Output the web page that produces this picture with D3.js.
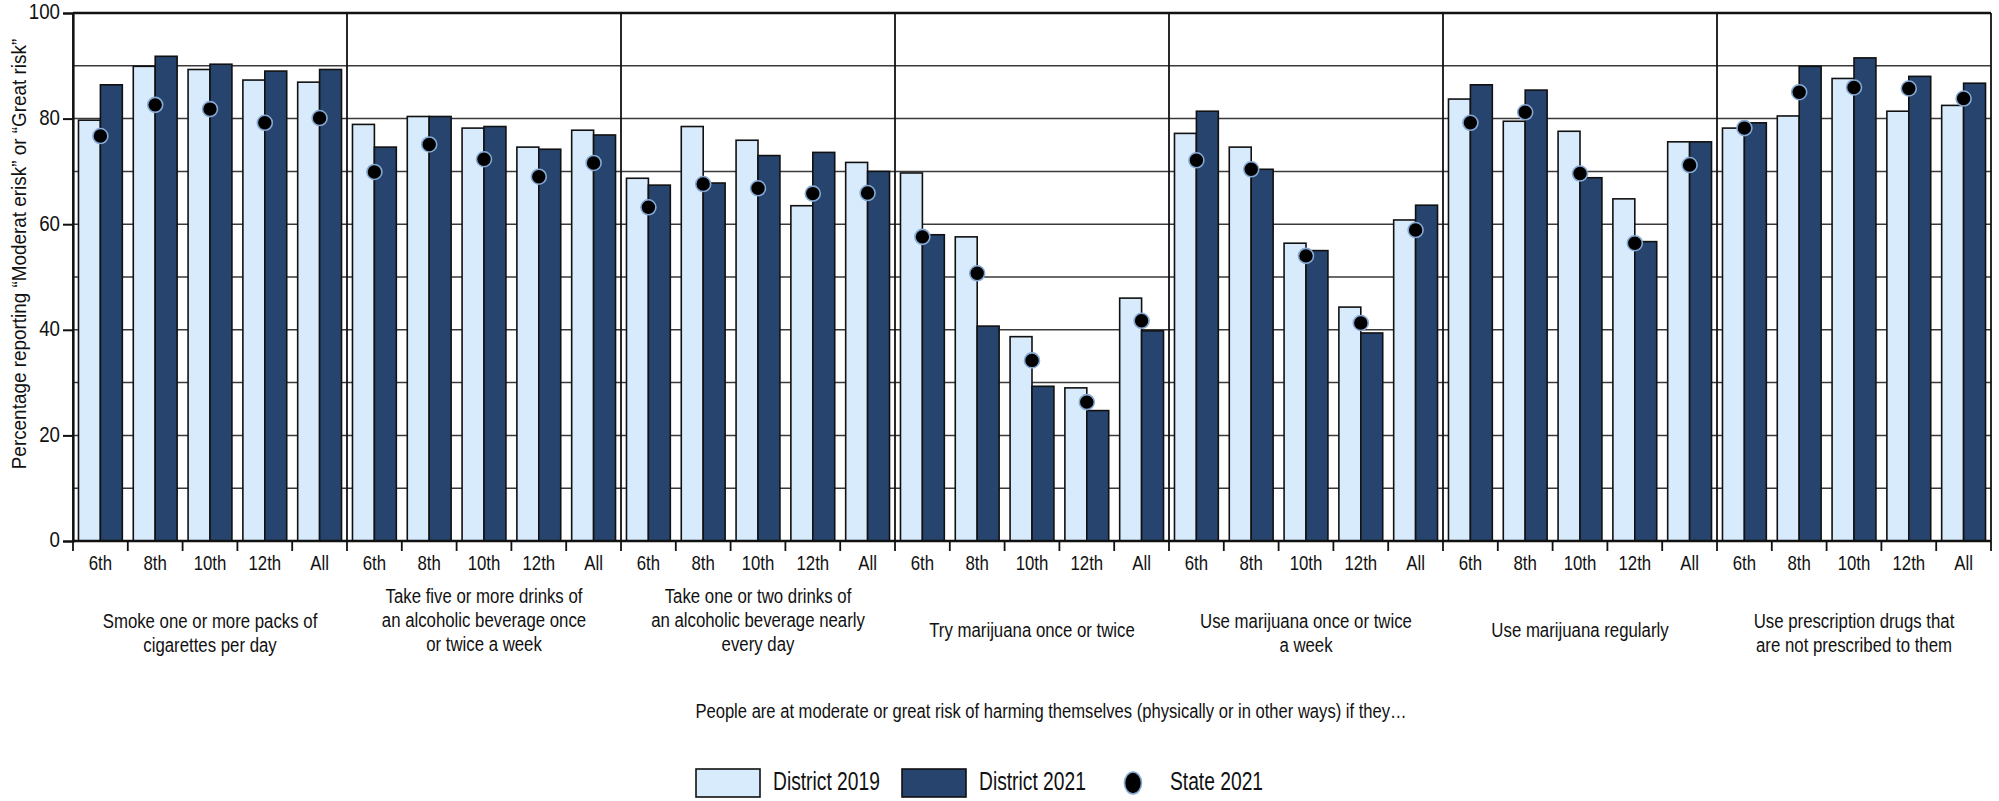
<!DOCTYPE html>
<html>
<head>
<meta charset="utf-8">
<script src="https://cdn.jsdelivr.net/npm/d3@7/dist/d3.min.js"></script>
<style>
  html, body { margin: 0; padding: 0; background: #fff; }
  svg text { font-family: "Liberation Sans", Arial, sans-serif; fill: #111; }
</style>
</head>
<body>
<svg id="chart" width="1999" height="801"></svg>
<script>
// ---------- data ----------
const grades = ["6th", "8th", "10th", "12th", "All"];
const behaviors = [
  ["Smoke one or more packs of", "cigarettes per day"],
  ["Take five or more drinks of", "an alcoholic beverage once", "or twice a week"],
  ["Take one or two drinks of", "an alcoholic beverage nearly", "every day"],
  ["Try marijuana once or twice"],
  ["Use marijuana once or twice", "a week"],
  ["Use marijuana regularly"],
  ["Use prescription drugs that", "are not prescribed to them"]
];
const district2019 = [
  [79.7, 89.9, 89.3, 87.3, 86.9],
  [78.9, 80.4, 78.2, 74.6, 77.8],
  [68.7, 78.5, 75.9, 63.5, 71.7],
  [69.7, 57.6, 38.7, 29.0, 46.0],
  [77.2, 74.6, 56.4, 44.3, 60.8],
  [83.7, 79.5, 77.6, 64.8, 75.6],
  [78.2, 80.5, 87.6, 81.4, 82.5]
];
const district2021 = [
  [86.4, 91.8, 90.3, 89.0, 89.3],
  [74.6, 80.4, 78.5, 74.2, 76.9],
  [67.4, 67.8, 73.0, 73.6, 70.0],
  [58.0, 40.7, 29.3, 24.7, 39.8],
  [81.4, 70.4, 55.0, 39.4, 63.6],
  [86.4, 85.4, 68.8, 56.7, 75.6],
  [79.2, 89.9, 91.5, 88.0, 86.7]
];
const state2021 = [
  [76.7, 82.6, 81.8, 79.2, 80.1],
  [69.9, 75.1, 72.3, 69.0, 71.6],
  [63.2, 67.6, 66.8, 65.8, 65.9],
  [57.6, 50.7, 34.2, 26.3, 41.7],
  [72.1, 70.4, 54.0, 41.3, 58.9],
  [79.2, 81.2, 69.6, 56.4, 71.2],
  [78.2, 85.0, 85.9, 85.7, 83.8]
];
const yTickValues = [0, 20, 40, 60, 80, 100];
const gridValues = [10, 20, 30, 40, 50, 60, 70, 80, 90];
const seriesNames = ["District 2019", "District 2021", "State 2021"];
const yTitle = "Percentage reporting \u201cModerat erisk\u201d or \u201cGreat risk\u201d";
const xTitle = "People are at moderate or great risk of harming themselves (physically or in other ways) if they\u2026";

// ---------- layout ----------
const colors = { d2019: "#d8ebfc", d2021: "#26446e", dot: "#000", dotStroke: "#86a9d4" };
const plotLeft = 73, plotRight = 1991, plotTop = 13, plotBottom = 541;

// condensed look: horizontal squeeze through a transform
function squeezeAt(sel, xf, yf, f, rot) {
  sel.attr("x", 0).attr("y", 0)
    .attr("transform", (d, i) => `translate(${xf(d, i)},${yf(d, i)})${rot ? ` rotate(${rot})` : ""} scale(${f},1)`);
}

const svg = d3.select("#chart");
const y = d3.scaleLinear().domain([0, 100]).range([plotBottom, plotTop]);
const xGroup = d3.scaleBand().domain(d3.range(behaviors.length)).range([plotLeft, plotRight]).padding(0);
const xGrade = d3.scaleBand().domain(grades).range([0, xGroup.bandwidth()]).padding(0);
const xSeries = d3.scaleBand().domain(["d2019", "d2021"]).range([0, xGrade.bandwidth()])
  .paddingInner(0).paddingOuter(0.25);

// gridlines
svg.append("g").selectAll("line").data(gridValues).join("line")
  .attr("x1", plotLeft).attr("x2", plotRight)
  .attr("y1", d => y(d)).attr("y2", d => y(d))
  .attr("stroke", "#3a3a3a").attr("stroke-width", 1.5);

// records
const records = [];
behaviors.forEach((b, gi) => grades.forEach((g, k) => {
  records.push({ gi, g, v19: district2019[gi][k], v21: district2021[gi][k], vs: state2021[gi][k] });
}));
const cx = d => xGroup(d.gi) + xGrade(d.g);

// bars
const barG = svg.append("g");
barG.selectAll("rect.b19").data(records).join("rect").attr("class", "b19")
  .attr("x", d => cx(d) + xSeries("d2019")).attr("width", xSeries.bandwidth())
  .attr("y", d => y(d.v19)).attr("height", d => y(0) - y(d.v19))
  .attr("fill", colors.d2019).attr("stroke", "#111").attr("stroke-width", 1.6);
barG.selectAll("rect.b21").data(records).join("rect").attr("class", "b21")
  .attr("x", d => cx(d) + xSeries("d2021")).attr("width", xSeries.bandwidth())
  .attr("y", d => y(d.v21)).attr("height", d => y(0) - y(d.v21))
  .attr("fill", colors.d2021).attr("stroke", "#111").attr("stroke-width", 1.6);

// group separators (full height) and right border
const sepX = d3.range(behaviors.length + 1).map(i => i < behaviors.length ? xGroup(i) : plotRight);
svg.append("g").selectAll("line").data(sepX).join("line")
  .attr("x1", d => d).attr("x2", d => d)
  .attr("y1", y(100)).attr("y2", y(0) + 10)
  .attr("stroke", "#111").attr("stroke-width", 1.8);

// x ticks at grade boundaries
const tickX = [];
behaviors.forEach((b, gi) => grades.forEach((g, k) => { if (k > 0) tickX.push(xGroup(gi) + xGrade(g)); }));
svg.append("g").selectAll("line").data(tickX).join("line")
  .attr("x1", d => d).attr("x2", d => d)
  .attr("y1", y(0)).attr("y2", y(0) + 10)
  .attr("stroke", "#111").attr("stroke-width", 1.8);

// top line and baseline
svg.append("line").attr("x1", plotLeft).attr("x2", plotRight).attr("y1", y(100)).attr("y2", y(100))
  .attr("stroke", "#111").attr("stroke-width", 2.6);
svg.append("line").attr("x1", plotLeft).attr("x2", plotRight).attr("y1", y(0)).attr("y2", y(0))
  .attr("stroke", "#111").attr("stroke-width", 2.6);

// y axis
const yAxis = svg.append("g").attr("transform", `translate(${plotLeft},0)`)
  .call(d3.axisLeft(y).tickValues(yTickValues).tickSize(10).tickPadding(3).tickFormat(d3.format("d")));
yAxis.select(".domain").attr("stroke", "#111").attr("stroke-width", 2.2);
yAxis.selectAll(".tick line").attr("stroke", "#111").attr("stroke-width", 2);
const yTickText = yAxis.selectAll(".tick text")
  .style("font-size", "22px").style("font-family", "'Liberation Sans', Arial, sans-serif")
  .attr("fill", "#111").attr("dy", null).attr("dominant-baseline", "middle");
squeezeAt(yTickText, () => -13, () => 0, 0.85);

// dots
svg.append("g").selectAll("circle").data(records).join("circle")
  .attr("cx", d => cx(d) + xSeries("d2021"))
  .attr("cy", d => y(d.vs))
  .attr("r", 7.5)
  .attr("fill", colors.dot).attr("stroke", colors.dotStroke).attr("stroke-width", 1.6);

// grade labels
const gl = svg.append("g").selectAll("text").data(records).join("text")
  .attr("text-anchor", "middle")
  .style("font-size", "21px")
  .text(d => d.g);
squeezeAt(gl, d => cx(d) + xGrade.bandwidth() / 2, () => y(0) + 29, 0.8);

// behavior labels (one text per line)
const firstLineY = { 1: 631, 2: 622, 3: 597 };
const lineH = 24;
const lineRecs = [];
behaviors.forEach((lines, gi) => lines.forEach((ln, i) => lineRecs.push({ gi, ln, n: lines.length, i })));
const bl = svg.append("g").selectAll("text").data(lineRecs).join("text")
  .attr("text-anchor", "middle")
  .attr("dominant-baseline", "middle")
  .style("font-size", "21px")
  .text(d => d.ln);
squeezeAt(bl, d => xGroup(d.gi) + xGroup.bandwidth() / 2, d => firstLineY[d.n] + d.i * lineH, 0.8);

// x title
const xt = svg.append("text").datum(xTitle)
  .attr("text-anchor", "middle").attr("dominant-baseline", "middle")
  .style("font-size", "21px").text(d => d);
squeezeAt(xt, () => 1051, () => 712, 0.79);

// y title
const yt = svg.append("text").datum(yTitle)
  .attr("text-anchor", "middle").attr("dominant-baseline", "middle")
  .style("font-size", "21px").text(d => d);
squeezeAt(yt, () => 20, () => 254, 0.9, -90);

// legend
const lg = svg.append("g").attr("transform", "translate(0,783)");
lg.append("rect").attr("x", 696).attr("y", -14).attr("width", 64).attr("height", 28)
  .attr("fill", colors.d2019).attr("stroke", "#111").attr("stroke-width", 1.6);
lg.append("rect").attr("x", 902).attr("y", -14).attr("width", 64).attr("height", 28)
  .attr("fill", colors.d2021).attr("stroke", "#111").attr("stroke-width", 1.6);
lg.append("ellipse").attr("cx", 1133).attr("cy", 0).attr("rx", 8.5).attr("ry", 11)
  .attr("fill", colors.dot).attr("stroke", colors.dotStroke).attr("stroke-width", 1.6);
const legendText = [[773, seriesNames[0]], [979, seriesNames[1]], [1170, seriesNames[2]]];
const lt = lg.selectAll("text").data(legendText).join("text")
  .attr("dominant-baseline", "middle")
  .style("font-size", "26px").text(d => d[1]);
squeezeAt(lt, d => d[0], () => 0, 0.74);
</script>
</body>
</html>
